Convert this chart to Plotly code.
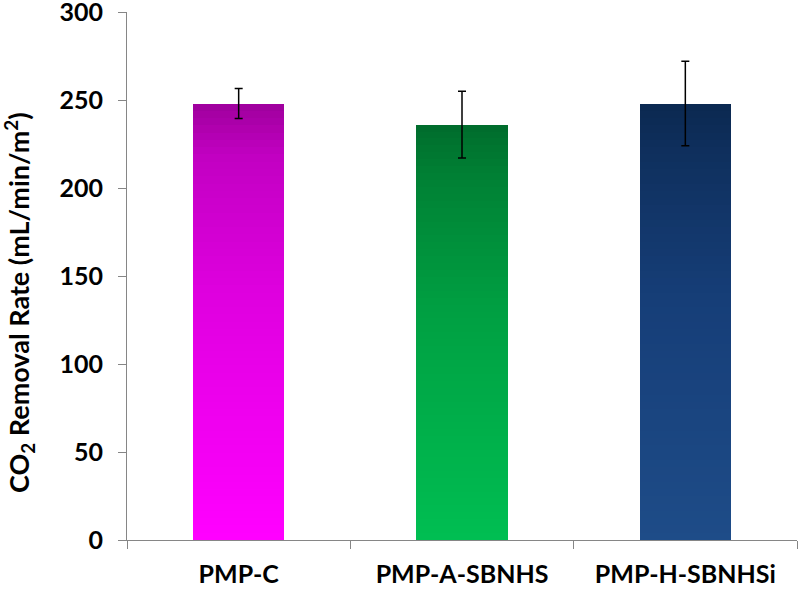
import plotly.graph_objects as go

categories = ["PMP-C", "PMP-A-SBNHS", "PMP-H-SBNHSi"]
values = [248, 236, 248]
errors = [8.5, 19, 24]
tick_vals = [0, 50, 100, 150, 200, 250, 300]
y_title = "CO<sub>2</sub> Removal Rate (mL/min/m<sup>2</sup>)"

# gradient stops (fraction of bar height, rgb) bottom -> top
grad_stops = [
    [(0.0, (255, 0, 255)), (0.55, (224, 0, 224)), (0.88, (194, 0, 194)), (1.0, (158, 0, 156))],
    [(0.0, (0, 190, 82)), (0.55, (0, 160, 66)), (0.88, (0, 128, 52)), (1.0, (0, 108, 44))],
    [(0.0, (30, 76, 136)), (0.55, (22, 62, 120)), (0.88, (15, 48, 94)), (1.0, (11, 40, 80))],
]

def interp(stops, f):
    for (f0, c0), (f1, c1) in zip(stops[:-1], stops[1:]):
        if f0 <= f <= f1:
            t = (f - f0) / (f1 - f0) if f1 > f0 else 0
            return "rgb(%d,%d,%d)" % tuple(round(a + (b - a) * t) for a, b in zip(c0, c1))
    return "rgb(%d,%d,%d)" % stops[-1][1]

N = 60
fig = go.Figure()
for i in range(N):
    f = (i + 0.5) / N
    fig.add_trace(go.Bar(
        x=categories,
        y=[v / N for v in values],
        marker=dict(color=[interp(s, f) for s in grad_stops], line=dict(width=0)),
        showlegend=False,
        hoverinfo="skip",
    ))

fig.add_trace(go.Scatter(
    x=categories, y=values, mode="markers",
    marker=dict(opacity=0, size=1),
    error_y=dict(type="data", array=errors, color="black", thickness=1.5, width=4),
    showlegend=False, hoverinfo="skip",
))

fig.update_layout(
    width=800, height=590,
    barmode="stack", bargap=0.59,
    plot_bgcolor="white", paper_bgcolor="white",
    margin=dict(l=127, r=3, t=12, b=50),
    font=dict(family="Lato, Open Sans, sans-serif", color="black"),
)
fig.add_annotation(
    text=y_title, textangle=-90, showarrow=False,
    xref="paper", yref="paper",
    x=-(127 - 19) / 670, y=(540 - 303) / 528,
    xanchor="center", yanchor="middle",
    font=dict(size=27, family="Lato", weight="bold", color="black"),
)
fig.update_xaxes(
    automargin=False,
    showline=True, linecolor="#868686", linewidth=1.2,
    ticks="outside", ticklen=8, tickcolor="#868686", tickson="boundaries",
    tickfont=dict(size=25, family="Lato", weight="bold"),
    ticklabelstandoff=12, ticklabeloverflow="allow",
    showgrid=False,
)
fig.update_yaxes(
    automargin=False,
    range=[0, 300], tickvals=tick_vals,
    showline=True, linecolor="#868686", linewidth=1.2,
    ticks="outside", ticklen=8, tickcolor="#868686",
    tickfont=dict(size=25, family="Lato", weight="bold"),
    ticklabelstandoff=10, ticklabeloverflow="allow",
    showgrid=False, zeroline=False,
)
fig.write_html("out.html", config={"displayModeBar": False},
               post_script="document.body.style.margin='0';")
